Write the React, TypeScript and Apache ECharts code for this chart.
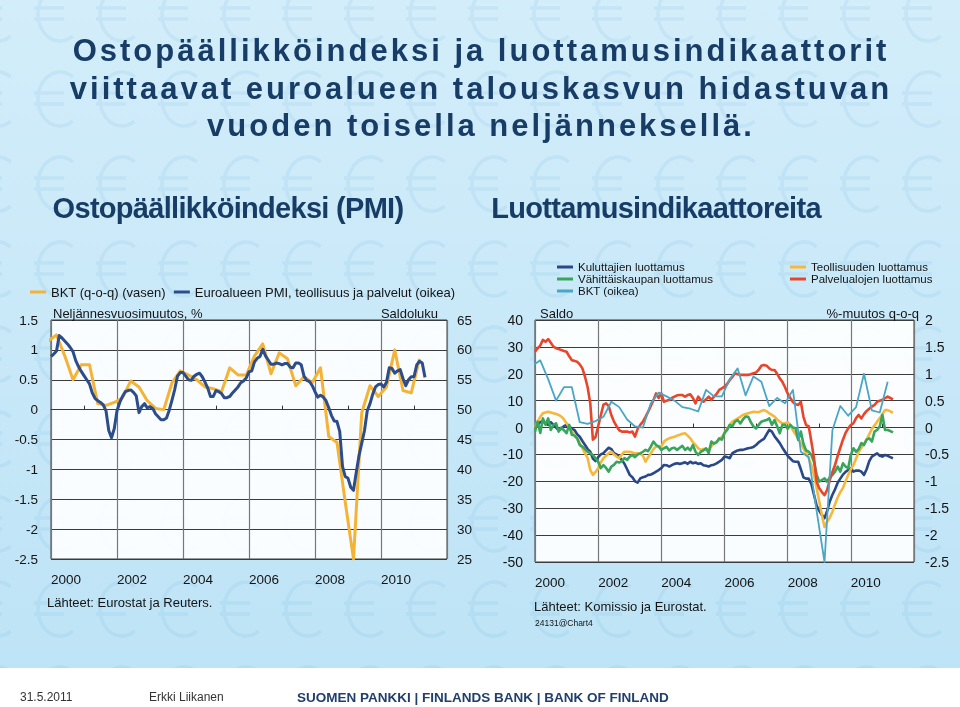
import React, { useEffect, useRef } from "react";
import * as echarts from "echarts";

// ---------- data ----------
const START_YEAR = 2000; // first monthly observation = Jan 2000
const GDP_FIRST = 1999 + 11 / 12; // first quarterly value = 1999Q4, plotted at the quarter's last month

// Euro area GDP, % q-o-q (1999Q4 ... 2011Q1)
const gdpQoQ = [
  1.15,
  1.25, 0.9, 0.5, 0.75,
  0.75, 0.1, 0.07, 0.12,
  0.2, 0.48, 0.38, 0.15,
  0.02, 0.0, 0.45, 0.65,
  0.58, 0.5, 0.38, 0.35,
  0.3, 0.7, 0.58, 0.58,
  0.9, 1.1, 0.6, 0.95,
  0.85, 0.4, 0.55, 0.45,
  0.7, -0.45, -0.55, -1.55,
  -2.5, -0.05, 0.4, 0.22,
  0.38, 1.0, 0.32, 0.28,
  0.85,
];

// Euro area composite PMI (Jan 2000 ... May 2011)
const pmi = [
  58.9, 59.3, 59.8, 62.4, 62.0, 61.5, 61.0, 60.4, 59.7, 58.2, 57.2, 56.4,
  55.7, 55.0, 54.3, 52.8, 51.9, 51.5, 51.2, 50.8, 49.8, 46.5, 45.3, 46.8,
  49.8, 51.2, 52.2, 53.0, 53.2, 53.3, 52.9, 52.3, 49.5, 50.5, 51.0, 50.3,
  50.5, 50.2, 49.3, 48.8, 48.3, 48.3, 48.6, 49.9, 51.6, 53.4, 55.6, 56.2,
  56.2, 55.6, 55.0, 54.9, 55.6, 55.9, 56.1, 55.5, 54.6, 53.6, 52.2, 52.2,
  53.2, 53.0, 52.7, 52.0, 52.0, 52.2, 52.8, 53.3, 53.8, 54.5, 54.8, 55.3,
  56.3, 56.5, 58.0, 58.6, 58.9, 60.1, 59.0, 58.3, 57.6, 57.6, 57.8, 57.7,
  57.5, 57.7, 57.7, 57.1, 57.0, 57.8, 57.8, 57.5, 55.6, 54.9, 54.7, 54.0,
  53.0, 52.1, 52.4, 52.1, 51.5, 50.3, 49.0, 48.1, 48.0, 46.3, 40.5, 38.8,
  38.5, 37.0, 36.5, 39.5, 42.3, 44.4, 46.5, 49.8, 51.0, 52.6, 53.8, 54.2,
  54.3, 53.8, 54.6, 57.0, 56.9, 56.1, 56.5, 56.7, 55.2, 54.0, 55.0, 55.5,
  55.5, 57.5, 58.1, 57.8, 55.4,
];

// EC confidence indicators, balance (Jan 2000 ... May 2011)
const consumer = [
  0.4, 1.0, 2.0, 2.5, 1.5, 1.0, 2.0, 1.0, 0.0, -1.0, -0.5, 0.5,
  1.0, 0.5, -0.5, -0.9, -2.5, -3.4, -5.0, -6.5, -8.0, -9.0, -11.5, -12.5,
  -11.0, -10.0, -9.5, -8.5, -7.5, -8.0, -9.5, -10.0, -11.0, -12.0, -13.5, -15.5,
  -17.6, -18.5, -20.0, -20.5, -18.9, -18.5, -18.2, -17.6, -17.5, -17.0, -16.4, -15.8,
  -15.1, -13.9, -14.0, -14.5, -14.0, -13.5, -13.3, -13.5, -13.3, -12.9, -13.5, -12.7,
  -13.3, -13.0, -13.5, -13.3, -14.0, -14.2, -14.5, -14.0, -13.8, -13.3, -12.7, -12.0,
  -10.8, -11.0, -11.4, -9.5, -9.0, -8.5, -8.3, -8.3, -8.0, -7.7, -7.5, -7.2,
  -6.5, -5.5, -4.8, -4.2, -2.5, -0.9, -1.5, -3.2, -4.5, -5.8, -7.5, -9.0,
  -10.5, -11.5, -12.5, -12.7, -12.7, -15.5, -18.5, -19.0, -19.0, -21.0, -25.0, -29.0,
  -31.0, -32.5, -33.7, -31.0, -27.5, -25.0, -23.0, -20.5, -19.0, -17.5, -16.5, -15.8,
  -15.1, -16.4, -16.0, -16.0, -16.4, -17.6, -15.5, -12.5, -10.8, -10.2, -9.6, -10.5,
  -10.8, -10.2, -10.5, -11.0, -11.4,
];

const retail = [
  -1.5, 2.2, -2.0, 3.4, 1.0, 3.4, -0.9, 1.0, 1.6, -1.5, 0.0, -1.0,
  -2.1, 1.0, -2.7, -3.0, -4.0, -6.5, -7.1, -8.0, -9.0, -9.5, -10.2, -11.4,
  -12.7, -15.1, -14.0, -15.0, -16.4, -14.5, -13.9, -12.7, -13.0, -12.5, -11.4, -12.0,
  -10.8, -10.2, -11.0, -10.0, -9.6, -9.0, -8.3, -8.8, -7.1, -5.2, -6.5, -7.0,
  -8.3, -7.7, -7.2, -8.5, -7.7, -7.5, -8.3, -7.5, -6.8, -8.3, -7.5, -8.5,
  -6.5, -9.0, -10.2, -9.0, -8.5, -7.7, -9.5, -5.2, -6.0, -5.5, -4.0, -4.5,
  -2.0, -0.9, 1.0, 0.5, 2.2, 2.8, 1.5, 3.0, 4.1, 4.0, 2.0, 0.4,
  -0.3, 1.0, 2.2, 2.5, 2.8, 3.4, 1.0, 2.8, 0.5, -2.1, 1.0, 1.0,
  -0.5, 1.0, 0.0, -0.3, -4.6, -1.5, -6.0, -8.5, -9.0, -10.2, -12.7, -17.5,
  -20.1, -19.5, -18.9, -20.1, -18.5, -17.6, -16.4, -14.5, -16.4, -13.3, -14.5, -15.1,
  -10.2, -7.7, -9.0, -8.0, -5.8, -6.5, -4.5, -4.0, -5.2, -1.5, -0.9, 0.5,
  4.7, -0.9, -0.9, -1.3, -1.8,
];

const industry = [
  0.0, 2.2, 4.0, 5.3, 5.6, 5.9, 5.6, 5.3, 5.0, 4.7, 4.1, 3.0,
  1.6, 0.0, -1.5, -2.8, -4.0, -5.8, -7.7, -9.5, -11.4, -15.8, -17.6, -16.5,
  -15.1, -13.0, -11.4, -10.5, -9.5, -9.0, -10.0, -10.8, -11.4, -10.0, -9.0, -9.0,
  -9.0, -9.3, -9.6, -9.6, -9.8, -10.5, -12.7, -11.0, -9.6, -8.0, -7.1, -7.1,
  -7.1, -5.2, -4.5, -4.0, -3.7, -3.4, -3.0, -2.7, -2.3, -2.1, -3.0, -4.0,
  -5.5, -6.5, -7.7, -8.3, -8.0, -8.0, -8.3, -7.0, -5.8, -5.2, -4.6, -3.5,
  -2.1, -0.5, 1.0, 2.2, 2.8, 3.4, 4.0, 4.7, 5.0, 5.3, 5.6, 5.9,
  5.8, 5.7, 6.2, 6.5, 6.0, 5.3, 4.7, 4.1, 3.0, 2.2, 1.5, 1.5,
  2.0, 1.0, -1.0, -2.5, -4.0, -6.0, -7.7, -9.5, -11.4, -14.0, -17.6, -22.5,
  -27.5, -32.5, -37.0, -35.0, -33.5, -31.3, -28.5, -26.0, -24.0, -22.5, -20.0, -17.6,
  -15.5, -13.9, -11.5, -9.0, -7.5, -6.0, -4.5, -2.5, -0.5, 0.8, 2.2, 3.5,
  5.0, 6.5, 6.5, 6.0, 5.5,
];

const services = [
  28.2, 29.5, 30.5, 32.6, 31.9, 32.9, 31.5, 30.1, 29.5, 29.2, 28.8, 28.5,
  28.2, 26.5, 25.0, 24.8, 24.5, 23.5, 22.0, 18.9, 15.0, 9.0, -4.5, -3.5,
  0.5, 4.5, 8.5, 9.0, 8.0, 4.7, 2.2, 0.5, -1.0, -1.5, -1.5, -1.5,
  -1.8, -1.5, -3.4, -0.5, 1.0, 2.2, 4.0, 5.9, 8.0, 10.2, 12.7, 11.0,
  12.7, 9.6, 10.0, 10.3, 11.0, 11.5, 12.0, 12.1, 12.1, 11.5, 12.1, 12.4,
  11.0, 9.0, 11.5, 10.3, 9.6, 10.5, 11.5, 10.3, 11.5, 12.5, 14.0, 14.6,
  15.2, 16.2, 17.7, 18.8, 20.2, 19.8, 19.6, 19.6, 19.6, 19.6, 19.8, 20.2,
  20.5, 21.5, 23.0, 23.3, 23.0, 22.0, 21.4, 21.4, 20.0, 18.3, 17.0, 15.0,
  12.7, 11.0, 9.5, 8.7, 8.4, 9.6, 4.0, 0.9, 0.5, -5.2, -11.4, -20.1,
  -22.6, -24.0, -25.1, -23.2, -19.5, -16.5, -13.9, -10.5, -7.5, -4.5, -2.0, -0.3,
  0.9, 1.6, 3.5, 4.7, 3.4, 5.0, 6.2, 7.0, 7.8, 8.4, 9.6, 10.0,
  10.3, 10.9, 11.5, 11.0, 10.5,
];

// axis ranges / ticks
const X_MIN = 2000;
const X_MAX = 2012;
const X_STEP = 2;
const leftPctAxis = { min: -2.5, max: 1.5, interval: 0.5 };
const leftPmiAxis = { min: 25, max: 65, interval: 5 };
const rightBalAxis = { min: -50, max: 40, interval: 10 };
const rightPctAxis = { min: -2.5, max: 2, interval: 0.5 };

// texts
const TITLE_LINES = [
  "Ostopäällikköindeksi ja luottamusindikaattorit",
  "viittaavat euroalueen talouskasvun hidastuvan",
  "vuoden toisella neljänneksellä.",
];
const SUB_LEFT = "Ostopäällikköindeksi (PMI)";
const SUB_RIGHT = "Luottamusindikaattoreita";

// ---------- helpers ----------
const monthly = (arr: number[]) => arr.map((v, i) => [START_YEAR + i / 12, v]);
const quarterly = (arr: number[]) => arr.map((v, k) => [GDP_FIRST + k / 4, v]);

const FONT = '"Liberation Sans", Arial, Helvetica, sans-serif';
const NAVY = "#173d66";
const TXT = "#141414";

const C_PMI = "#2c4c8a";
const C_GDP_L = "#f5b335";
const C_CONS = "#2a4787";
const C_RETAIL = "#37a55b";
const C_GDP_R = "#4aa6c4";
const C_IND = "#f7b83a";
const C_SERV = "#e9452b";

// euro-sign outline used for the slide's background pattern
echarts.graphic.registerShape(
  "euroSign",
  echarts.graphic.extendPath(
    "M38.6,6.9 A22,27 0 1 0 38.6,51.1 M0,23 L30,23 M0,34 L30,34",
    {}
  )
);

function euroPattern() {
  const els: any[] = [];
  for (let r = -2; r <= 6; r++) {
    for (let c = -1; c <= 15; c++) {
      els.push({
        type: "euroSign",
        x: 34 + 62 * c,
        y: 155 + 85 * r,
        z: -95,
        silent: true,
        style: { fill: "none", stroke: "rgba(100,175,222,0.12)", lineWidth: 3.5 },
      });
    }
  }
  return els;
}

function xAxesFor(gridIndex: number) {
  return [
    {
      type: "value",
      gridIndex,
      min: X_MIN,
      max: X_MAX,
      interval: X_STEP,
      position: "bottom",
      axisLine: { show: false, onZero: false },
      axisTick: { show: false },
      axisLabel: {
        align: "left",
        margin: 13,
        fontSize: 13.5,
        color: TXT,
        fontFamily: FONT,
        formatter: (v: number) => (v >= X_MAX ? "" : String(v)),
      },
      splitLine: { show: true, lineStyle: { color: "#777777", width: 1.2 } },
    },
    {
      type: "value",
      gridIndex,
      min: X_MIN,
      max: X_MAX,
      interval: X_STEP,
      position: "bottom",
      axisLine: { show: true, onZero: true, lineStyle: { color: "#3a3a3a", width: 1 } },
      axisTick: { show: false, inside: true },
      minorTick: { show: true, splitNumber: 2, length: 4, lineStyle: { color: "#333", width: 1 } },
      axisLabel: { show: false },
      splitLine: { show: false },
      minorSplitLine: { show: false },
    },
  ];
}

function yAxis(gridIndex: number, r: any, position: string, margin: number, grid: boolean, fontSize: number) {
  return {
    type: "value",
    gridIndex,
    position,
    min: r.min,
    max: r.max,
    interval: r.interval,
    axisLine: { show: false },
    axisTick: { show: false },
    axisLabel: { margin, fontSize, color: TXT, fontFamily: FONT },
    splitLine: { show: grid, lineStyle: { color: "#3c3c3c", width: 1 } },
  };
}

function line(name: string, xAxisIndex: number, yAxisIndex: number, data: any[], color: string, width: number) {
  return {
    type: "line",
    name,
    xAxisIndex,
    yAxisIndex,
    data,
    showSymbol: false,
    symbol: "none",
    lineStyle: { color, width, join: "round" },
    itemStyle: { color },
    emphasis: { disabled: true },
  };
}

function txt(text: string, x: number, y: number, size: number, opts: any = {}) {
  return {
    type: "text",
    x,
    y,
    z: 100,
    silent: true,
    style: {
      text,
      fontSize: size,
      fontFamily: opts.family || FONT,
      fontWeight: opts.weight || "normal",
      fill: opts.color || TXT,
      textAlign: opts.align || "left",
      textVerticalAlign: "middle",
    },
  };
}

// letter spacing of the slide's headings (applied to the rendered SVG text)
const LETTER_SPACING: Record<string, string> = {
  [TITLE_LINES[0]]: "3px",
  [TITLE_LINES[1]]: "3px",
  [TITLE_LINES[2]]: "3px",
  [SUB_LEFT]: "-0.7px",
  [SUB_RIGHT]: "-0.7px",
};

export default function App() {
  const ref = useRef<HTMLDivElement>(null);

  useEffect(() => {
    if (!ref.current) return;
    const chart = echarts.init(ref.current, undefined, { renderer: "svg" });

    const legendCommon = {
      icon: "rect",
      itemWidth: 16,
      itemHeight: 3,
      padding: 0,
      selectedMode: false,
    };

    const option: any = {
      animation: false,
      textStyle: { fontFamily: FONT },
      grid: [
        {
          left: 51, top: 320, width: 396, height: 239,
          show: true, backgroundColor: "rgba(255,255,255,0.9)",
          borderColor: "#3a3a3a", borderWidth: 1, containLabel: false,
        },
        {
          left: 535, top: 320, width: 379, height: 242,
          show: true, backgroundColor: "rgba(255,255,255,0.92)",
          borderColor: "#3a3a3a", borderWidth: 1, containLabel: false,
        },
      ],
      xAxis: [...xAxesFor(0), ...xAxesFor(1)],
      yAxis: [
        yAxis(0, leftPctAxis, "left", 13, true, 13.5),
        yAxis(0, leftPmiAxis, "right", 10, false, 13.5),
        yAxis(1, rightBalAxis, "left", 12, true, 14),
        yAxis(1, rightPctAxis, "right", 11, false, 14),
      ],
      legend: [
        {
          ...legendCommon,
          data: ["BKT (q-o-q) (vasen)", "Euroalueen PMI, teollisuus ja palvelut (oikea)"],
          left: 30, top: 285, orient: "horizontal", itemGap: 8,
          textStyle: { fontSize: 13, color: TXT, lineHeight: 14, fontFamily: FONT },
        },
        {
          ...legendCommon,
          data: ["Kuluttajien luottamus", "Vähittäiskaupan luottamus", "BKT (oikea)"],
          left: 557, top: 261, orient: "vertical", itemGap: 0,
          textStyle: { fontSize: 11.5, color: TXT, lineHeight: 12, fontFamily: FONT },
        },
        {
          ...legendCommon,
          data: ["Teollisuuden luottamus", "Palvelualojen luottamus"],
          left: 790, top: 261, orient: "vertical", itemGap: 0,
          textStyle: { fontSize: 11.5, color: TXT, lineHeight: 12, fontFamily: FONT },
        },
      ],
      series: [
        line("BKT (q-o-q) (vasen)", 0, 0, quarterly(gdpQoQ), C_GDP_L, 3),
        line("Euroalueen PMI, teollisuus ja palvelut (oikea)", 0, 1, monthly(pmi), C_PMI, 3),
        line("Kuluttajien luottamus", 2, 2, monthly(consumer), C_CONS, 2.6),
        line("Teollisuuden luottamus", 2, 2, monthly(industry), C_IND, 2.6),
        line("Vähittäiskaupan luottamus", 2, 2, monthly(retail), C_RETAIL, 2.6),
        line("Palvelualojen luottamus", 2, 2, monthly(services), C_SERV, 2.6),
        line("BKT (oikea)", 2, 3, quarterly(gdpQoQ), C_GDP_R, 1.8),
      ],
      graphic: [
        {
          type: "rect",
          z: -100,
          silent: true,
          shape: { x: 0, y: 0, width: 960, height: 707 },
          style: {
            fill: new echarts.graphic.LinearGradient(0, 0, 0, 1, [
              { offset: 0, color: "#d3edfa" },
              { offset: 0.5, color: "#c8e8f8" },
              { offset: 1, color: "#bce3f6" },
            ]),
          },
        },
        ...euroPattern(),
        {
          type: "rect",
          z: -90,
          silent: true,
          shape: { x: 0, y: 668, width: 960, height: 39 },
          style: { fill: "#ffffff" },
        },
        txt(TITLE_LINES[0], 481, 50, 31, { weight: "bold", color: NAVY, align: "center" }),
        txt(TITLE_LINES[1], 481, 88, 31, { weight: "bold", color: NAVY, align: "center" }),
        txt(TITLE_LINES[2], 481, 125, 31, { weight: "bold", color: NAVY, align: "center" }),
        txt(SUB_LEFT, 228, 208, 29, { weight: "bold", color: NAVY, align: "center" }),
        txt(SUB_RIGHT, 656, 208, 29, { weight: "bold", color: NAVY, align: "center" }),
        txt("Neljännesvuosimuutos, %", 53, 313, 13),
        txt("Saldoluku", 438, 313, 13, { align: "right" }),
        txt("Saldo", 540, 313, 13),
        txt("%-muutos q-o-q", 919, 313, 13, { align: "right" }),
        txt("Lähteet: Eurostat ja Reuters.", 47, 602, 13),
        txt("Lähteet: Komissio ja Eurostat.", 534, 606, 13),
        txt("24131@Chart4", 535, 623, 8.5),
        txt("31.5.2011", 20, 697, 12, { color: "#333" }),
        txt("Erkki Liikanen", 149, 697, 12, { color: "#333" }),
        txt("SUOMEN PANKKI | FINLANDS BANK | BANK OF FINLAND", 297, 697, 13.5, { weight: "bold", color: "#203f6b" }),
      ],
    };

    chart.setOption(option);

    const applySpacing = () => {
      if (!ref.current) return;
      ref.current.querySelectorAll("text").forEach((el) => {
        const s = LETTER_SPACING[(el.textContent || "").trim()];
        if (s) el.setAttribute("letter-spacing", s);
      });
    };
    applySpacing();
    chart.on("finished", applySpacing);

    return () => chart.dispose();
  }, []);

  return (
    <div
      ref={ref}
      style={{ position: "fixed", left: 0, top: 0, width: 960, height: 707 }}
    />
  );
}
